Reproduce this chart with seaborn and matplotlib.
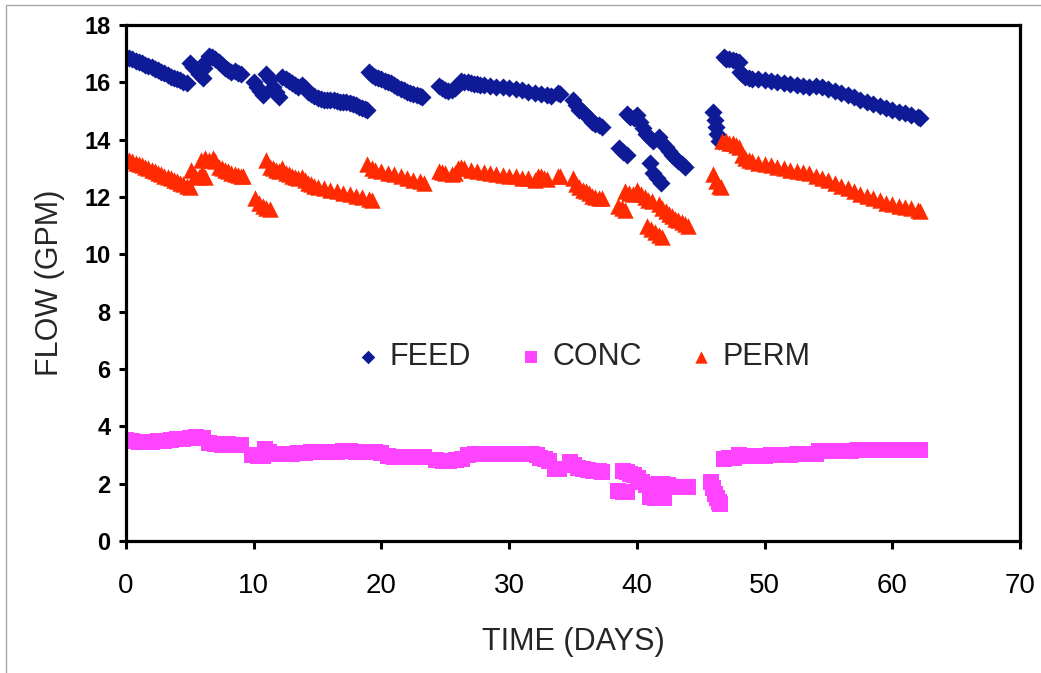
import matplotlib
matplotlib.use("Agg")
import matplotlib.pyplot as plt
import matplotlib.patches as mpatches
import seaborn as sns
import pandas as pd

# --- data (days, GPM) ---
feed_day = [
    0.0, 0.25, 0.5, 0.75, 1.0, 1.25, 1.5, 1.75, 2.0, 2.25, 2.5, 2.75, 3.0, 3.25, 3.5, 3.75, 4.0, 4.25, 4.5, 4.75,
    5.0, 5.25, 5.5, 5.75, 6.0,
    6.1, 6.25, 6.5, 6.75, 7.0, 7.25, 7.5, 7.75, 8.0, 8.25, 8.5, 8.75, 9.0,
    10.0, 10.25, 10.5, 10.75,
    11.0, 11.25, 11.5, 11.75, 12.0,
    12.2, 12.5, 12.75, 13.0, 13.25, 13.5, 13.75, 14.0, 14.25, 14.5, 14.75, 15.0, 15.25, 15.5, 15.75, 16.0,
    16.25, 16.5, 16.75, 17.0, 17.25, 17.5, 17.75, 18.0, 18.25, 18.5, 18.75, 18.9,
    19.0, 19.25, 19.5, 19.75, 20.0, 20.25, 20.5, 20.75, 21.0, 21.25, 21.5, 21.75, 22.0, 22.25, 22.5, 22.75, 23.0, 23.2,
    24.5, 24.75, 25.0, 25.25, 25.5, 25.75, 26.0, 26.25, 26.5, 26.75, 27.0, 27.25, 27.5, 27.75, 28.0, 28.5,
    29.0, 29.5, 30.0, 30.5, 31.0, 31.5, 32.0, 32.5, 33.0, 33.25, 33.8, 34.0,
    35.0, 35.25, 35.5, 35.75, 36.0, 36.25, 36.5, 36.75, 37.0, 37.25,
    38.6, 38.9, 39.2,
    39.2, 39.5, 39.75, 40.0, 40.25, 40.5, 40.75, 41.0, 41.25,
    41.0, 41.3, 41.6, 41.9,
    41.7, 42.0, 42.25, 42.5, 42.75, 43.0, 43.25, 43.5, 43.8,
    46.0, 46.1, 46.2, 46.3, 46.4,
    46.8, 47.0, 47.25, 47.5, 47.75, 48.0, 48.1, 48.25, 48.5, 48.75, 49.0, 49.5, 50.0, 50.5, 51.0, 51.5,
    52.0, 52.5, 53.0, 53.5, 54.0, 54.5, 55.0, 55.5, 56.0, 56.5, 57.0, 57.5, 58.0, 58.5, 59.0, 59.5,
    60.0, 60.5, 61.0, 61.5, 62.0, 62.2,
]
feed_flow = [
    16.88, 16.84, 16.80, 16.74, 16.70, 16.66, 16.62, 16.58, 16.52, 16.48, 16.42, 16.36, 16.32, 16.26, 16.20, 16.16, 16.12, 16.07, 16.02, 15.96,
    16.68, 16.55, 16.45, 16.30, 16.15,
    16.50, 16.75, 16.92, 16.90, 16.82, 16.70, 16.60, 16.50, 16.42, 16.35, 16.38, 16.32, 16.28,
    16.00, 15.85, 15.70, 15.55,
    16.30, 16.10, 15.85, 15.65, 15.50,
    16.20, 16.10, 16.05, 15.98, 15.90, 15.85, 15.92, 15.80, 15.68, 15.60, 15.52, 15.45, 15.42, 15.40, 15.40, 15.38,
    15.40, 15.35, 15.32, 15.30, 15.30, 15.28, 15.25, 15.20, 15.15, 15.10, 15.08, 15.05,
    16.35, 16.25, 16.20, 16.15, 16.10, 16.05, 16.00, 15.98, 15.90, 15.82, 15.78, 15.72, 15.68, 15.62, 15.58, 15.55, 15.52, 15.50,
    15.88, 15.80, 15.75, 15.70, 15.72, 15.80, 15.90, 16.05, 16.02, 16.00, 15.97, 15.95, 15.95, 15.92, 15.90, 15.88,
    15.85, 15.82, 15.80, 15.78, 15.72, 15.68, 15.62, 15.60, 15.55, 15.52, 15.62, 15.58,
    15.40, 15.20, 15.05, 14.95, 14.85, 14.75, 14.62, 14.55, 14.50, 14.45,
    13.72, 13.58, 13.45,
    14.90, 14.80, 14.75, 14.85, 14.60, 14.40, 14.20, 14.05, 13.95,
    13.20, 12.85, 12.65, 12.50,
    14.10, 13.90, 13.75, 13.60, 13.45, 13.35, 13.25, 13.15, 13.05,
    14.95, 14.70, 14.45, 14.20, 13.95,
    16.88, 16.82, 16.80, 16.78, 16.75, 16.70, 16.35, 16.28, 16.20, 16.15, 16.12, 16.10, 16.08, 16.05, 16.00, 15.98,
    15.95, 15.92, 15.88, 15.82, 15.88, 15.85, 15.78, 15.70, 15.62, 15.55, 15.48, 15.40, 15.32, 15.25, 15.18, 15.10,
    15.02, 14.98, 14.92, 14.85, 14.78, 14.75,
]

conc_day = [
    0.0, 0.5, 1.0, 1.5, 2.0, 2.5, 3.0, 3.5, 4.0, 4.5, 5.0, 5.5, 6.0,
    6.5, 7.0, 7.5, 8.0, 8.5, 9.0,
    9.9, 10.3, 10.7,
    10.9, 11.2, 11.5, 12.0, 12.5, 13.0, 13.5, 14.0, 14.5, 15.0, 15.5, 16.0, 16.5, 17.0, 17.5, 18.0, 18.5, 19.0, 19.5, 20.0,
    20.5, 21.0, 21.5, 22.0, 22.5, 23.0, 23.3,
    24.3, 24.8, 25.3, 25.8, 26.3,
    26.8, 27.3, 27.8, 28.3, 28.8, 29.3, 29.8, 30.3, 30.8, 31.3, 31.8, 32.2,
    32.4, 32.8, 33.1,
    33.6, 33.9,
    34.8, 35.1, 35.4, 35.8, 36.2, 36.6, 37.0, 37.3,
    38.5, 38.9, 39.2,
    38.9, 39.2, 39.5, 39.8, 40.1, 40.4, 40.7, 41.0,
    41.0, 41.4, 41.8, 42.1,
    41.7, 42.0, 42.4, 42.8, 43.2, 43.6, 44.0,
    45.8, 45.95, 46.1, 46.25, 46.4, 46.5,
    46.8, 47.2, 47.6, 48.0, 48.4, 49.0, 49.5, 50.0, 50.5, 51.0, 51.5, 52.0, 52.5, 53.0, 53.5, 54.0,
    54.3, 54.8, 55.3, 55.8, 56.3, 56.8, 57.3, 57.8, 58.3, 58.8, 59.3, 59.8, 60.3, 60.8, 61.3, 61.8, 62.2,
]
conc_flow = [
    3.52, 3.50, 3.45, 3.45, 3.47, 3.48, 3.50, 3.52, 3.55, 3.57, 3.60, 3.62, 3.60,
    3.42, 3.38, 3.35, 3.38, 3.36, 3.35,
    3.00, 2.98, 2.98,
    3.20, 3.10, 3.05, 3.03, 3.05, 3.05, 3.07, 3.08, 3.10, 3.10, 3.10, 3.12, 3.12, 3.13, 3.13, 3.12, 3.12, 3.12, 3.10, 3.08,
    2.95, 2.93, 2.93, 2.93, 2.93, 2.93, 2.93,
    2.82, 2.80, 2.80, 2.82, 2.85,
    3.00, 3.02, 3.03, 3.03, 3.03, 3.03, 3.03, 3.03, 3.03, 3.03, 3.02, 3.00,
    2.88, 2.85, 2.80,
    2.50, 2.50,
    2.75, 2.65, 2.55, 2.50, 2.47, 2.45, 2.43, 2.42,
    1.75, 1.72, 1.70,
    2.45, 2.40, 2.35, 2.30, 2.20, 2.05, 1.95, 1.90,
    1.55, 1.50, 1.50, 1.50,
    2.00, 1.98, 1.95, 1.90, 1.88, 1.87, 1.87,
    2.05, 1.85, 1.65, 1.50, 1.35, 1.30,
    2.85, 2.88, 2.90, 3.00, 2.95, 2.97, 2.98, 2.98, 2.99, 3.00, 3.00, 3.00, 3.02, 3.03, 3.03, 3.05,
    3.15, 3.15, 3.15, 3.15, 3.15, 3.15, 3.16, 3.17, 3.17, 3.17, 3.17, 3.17, 3.17, 3.17, 3.17, 3.17, 3.17,
]

perm_day = [
    0.0, 0.25, 0.5, 0.75, 1.0, 1.25, 1.5, 1.75, 2.0, 2.25, 2.5, 2.75, 3.0, 3.25, 3.5, 3.75, 4.0, 4.25, 4.5, 4.75, 5.0,
    5.1, 5.4, 5.7, 5.95, 6.2,
    5.9, 6.2, 6.5, 6.8, 7.0, 7.25, 7.5, 7.75, 8.0, 8.25, 8.5, 8.75, 9.0, 9.2,
    10.1, 10.4, 10.7, 11.0, 11.3,
    11.0, 11.25, 11.5, 11.75, 12.0, 12.25, 12.5, 12.75, 13.0, 13.25, 13.5, 13.75, 14.0, 14.25, 14.5, 14.75,
    15.0, 15.5, 16.0, 16.5, 17.0, 17.5, 18.0, 18.5, 19.0, 19.25,
    18.9, 19.25, 19.5, 20.0, 20.5, 21.0, 21.5, 22.0, 22.5, 23.0, 23.3,
    24.5, 24.75, 25.0, 25.5, 25.75, 26.0, 26.25, 26.5, 27.0, 27.5, 28.0, 28.5, 29.0, 29.5, 30.0, 30.5,
    31.0, 31.5, 32.0, 32.25, 32.5, 32.75, 33.0, 33.8, 34.0,
    35.0, 35.25, 35.5, 35.75, 36.0, 36.25, 36.5, 36.75, 37.0, 37.3,
    38.5, 38.8, 39.1,
    39.1, 39.4, 39.7, 40.0, 40.3, 40.6, 40.9, 41.2,
    40.8, 41.1, 41.4, 41.7, 42.0,
    41.7, 42.0, 42.25, 42.5, 42.75, 43.0, 43.25, 43.5, 43.75, 44.0,
    46.0, 46.2, 46.4, 46.6,
    46.7, 47.0, 47.25, 47.5, 47.75, 48.0, 48.2, 48.5, 48.75, 49.0, 49.5, 50.0, 50.5, 51.0, 51.5, 52.0,
    52.5, 53.0, 53.5, 54.0, 54.5, 55.0, 55.5, 56.0, 56.5, 57.0, 57.5, 58.0, 58.5, 59.0, 59.5, 60.0,
    60.5, 61.0, 61.5, 62.0, 62.2,
]
perm_flow = [
    13.35, 13.30, 13.25, 13.20, 13.15, 13.10, 13.05, 13.00, 12.95, 12.90, 12.85, 12.80, 12.75, 12.70, 12.65, 12.60, 12.55, 12.50, 12.45, 12.40, 12.35,
    12.95, 12.75, 12.70, 12.85, 12.70,
    13.30, 13.35, 13.30, 13.35, 13.25, 13.05, 13.00, 12.95, 12.90, 12.85, 12.80, 12.78, 12.75, 12.72,
    11.95, 11.80, 11.70, 11.60, 11.58,
    13.30, 13.05, 13.00, 12.95, 12.90, 13.00, 12.85, 12.80, 12.75, 12.70, 12.65, 12.70, 12.60, 12.50, 12.45, 12.40,
    12.35, 12.30, 12.25, 12.20, 12.15, 12.10, 12.05, 12.00, 11.93, 11.90,
    13.15, 13.00, 12.95, 12.90, 12.85, 12.80, 12.72, 12.65, 12.60, 12.55, 12.50,
    12.90, 12.88, 12.85, 12.80, 12.82, 13.00, 13.05, 13.00, 12.95, 12.90, 12.88, 12.85, 12.80, 12.78, 12.75, 12.72,
    12.68, 12.65, 12.60, 12.75, 12.72, 12.68, 12.62, 12.75, 12.72,
    12.65, 12.45, 12.35, 12.25, 12.20, 12.15, 12.05, 12.00, 11.98, 11.95,
    11.70, 11.60, 11.55,
    12.20, 12.15, 12.10, 12.25, 12.10, 12.00, 11.90, 11.85,
    11.00, 10.88, 10.78, 10.68, 10.60,
    11.75, 11.60, 11.50, 11.40, 11.35, 11.25, 11.20, 11.12, 11.05, 11.00,
    12.80, 12.55, 12.40, 12.35,
    13.95, 13.95, 13.90, 13.88, 13.80, 13.75, 13.45, 13.35, 13.30, 13.25, 13.20, 13.15, 13.10, 13.05, 13.00, 12.95,
    12.92, 12.88, 12.82, 12.75, 12.68, 12.60, 12.50, 12.40, 12.32, 12.22, 12.12, 12.05, 11.95, 11.88, 11.80, 11.75,
    11.70, 11.65, 11.60, 11.55, 11.52,
]

x_ticks = [0, 10, 20, 30, 40, 50, 60, 70]
y_ticks = [0, 2, 4, 6, 8, 10, 12, 14, 16, 18]

sns.set_theme(style="white")
plt.rcParams["font.family"] = ["Liberation Sans", "DejaVu Sans"]

fig = plt.figure(figsize=(10.41, 6.73), dpi=100)
ax = fig.add_axes([126 / 1041, 1 - 541 / 673, (1020 - 126) / 1041, (541 - 25) / 673])

# light grey frame round the figure (only left / top edges show)
fig.patches.append(mpatches.Rectangle((6 / 1041, -0.05), 1.1, 1.05 - 5 / 673,
                                      transform=fig.transFigure, fill=False,
                                      edgecolor="#a8a8a8", linewidth=1.0))

sns.scatterplot(x=feed_day, y=feed_flow, ax=ax, marker="D", s=85, color="#0e1a96",
                linewidth=0, label="FEED")
sns.scatterplot(x=conc_day, y=conc_flow, ax=ax, marker="s", s=130, color="#ff44ff",
                linewidth=0, label="CONC")
sns.scatterplot(x=perm_day, y=perm_flow, ax=ax, marker="^", s=140, color="#ff2a00",
                linewidth=0, label="PERM")

ax.set_xlim(0, 70)
ax.set_ylim(0, 18)
ax.set_xticks(x_ticks)
ax.set_yticks(y_ticks)
ax.set_xticklabels([str(t) for t in x_ticks], fontsize=20)
ax.set_yticklabels([str(t) for t in y_ticks], fontsize=17, fontweight="bold")
ax.tick_params(axis="x", direction="out", length=6, width=2.2, pad=17, colors="black")
ax.tick_params(axis="y", direction="out", length=5, width=2.2, pad=6, colors="black")
ax.tick_params(bottom=True, left=True)
for side in ["left", "right", "top", "bottom"]:
    ax.spines[side].set_visible(True)
    ax.spines[side].set_color("black")
    ax.spines[side].set_linewidth(2.3)
ax.grid(False)

ax.set_xlabel("TIME (DAYS)", fontsize=22, labelpad=20)
ax.set_ylabel("FLOW (GPM)", fontsize=22, labelpad=14)

leg = ax.legend(loc="center", bbox_to_anchor=(0.51, 0.357), ncol=3, frameon=False,
                fontsize=22, handletextpad=0.2, columnspacing=1.45, handlelength=1.0,
                borderaxespad=0, markerscale=0.75)

fig.savefig("out.png", dpi=100, facecolor="white")
